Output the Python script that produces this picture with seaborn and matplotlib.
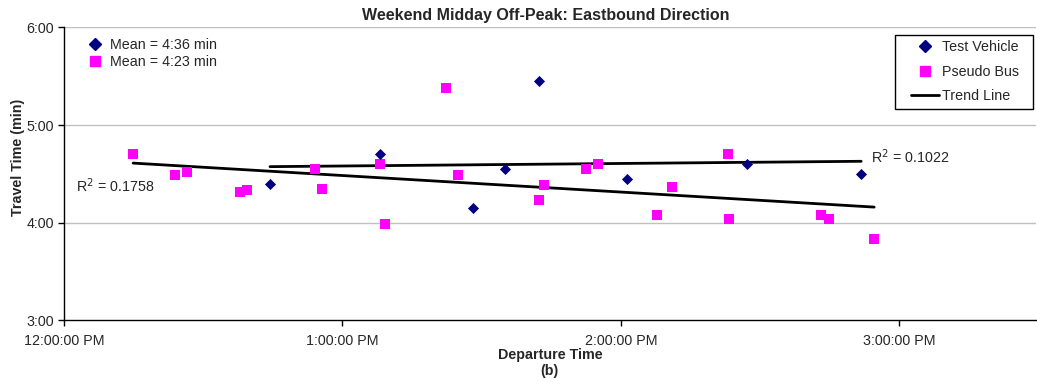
import numpy as np
import pandas as pd
import matplotlib
matplotlib.use("Agg")
import matplotlib.pyplot as plt
from matplotlib.lines import Line2D
from matplotlib.legend_handler import HandlerLine2D
from matplotlib.ticker import FixedLocator, FuncFormatter
import seaborn as sns

# Departure clock times and observed travel times (m:ss)
tv_depart = ["12:44:24", "13:08:12", "13:28:12", "13:35:03", "13:42:24",
             "14:01:24", "14:27:18", "14:51:48"]
tv_travel = ["4:24", "4:42", "4:09", "4:33", "5:27", "4:27", "4:36", "4:30"]

pb_depart = ["12:14:54", "12:23:54", "12:26:30", "12:37:54", "12:39:24",
             "12:54:06", "12:55:36", "13:08:12", "13:09:12", "13:22:18",
             "13:24:54", "13:42:24", "13:43:24", "13:52:30", "13:55:00",
             "14:07:48", "14:11:06", "14:23:12", "14:23:18", "14:43:12",
             "14:44:54", "14:54:36"]
pb_travel = ["4:42", "4:29", "4:31", "4:19", "4:20", "4:33", "4:21", "4:36",
             "3:59", "5:23", "4:29", "4:14", "4:23", "4:33", "4:36", "4:05",
             "4:22", "4:42", "4:02", "4:05", "4:02", "3:50"]

series_names = ["Test Vehicle", "Pseudo Bus"]
mean_labels = ["Mean = 4:36 min", "Mean = 4:23 min"]
r2_labels = ["R$^2$ = 0.1022", "R$^2$ = 0.1758"]
x_tick_hours = [0, 1, 2, 3]
y_tick_minutes = [3, 4, 5, 6]


def hours_after_noon(s):
    h, m, sec = (int(v) for v in s.split(":"))
    return h - 12 + m / 60 + sec / 3600


def minutes(s):
    m, sec = (int(v) for v in s.split(":"))
    return m + sec / 60


tv = pd.DataFrame({"depart": [hours_after_noon(s) for s in tv_depart],
                   "travel": [minutes(s) for s in tv_travel]})
pb = pd.DataFrame({"depart": [hours_after_noon(s) for s in pb_depart],
                   "travel": [minutes(s) for s in pb_travel]})

sns.set_theme(style="white")
plt.rcParams["font.family"] = ["Liberation Sans", "DejaVu Sans"]

NAVY = "#000080"
MAGENTA = "#FF00FF"
FS = 10.3

fig = plt.figure(figsize=(10.37, 3.81), dpi=100)
ax = fig.add_axes([0.0617, 0.1593, 0.937, 0.7687])

# gridlines
for m in y_tick_minutes[1:]:
    ax.axhline(m, color="#c0c0c0", lw=1.0, zorder=0)

# trend lines
for df in (tv, pb):
    sns.regplot(data=df, x="depart", y="travel", ax=ax, scatter=False,
                ci=None, truncate=True, color="black",
                line_kws=dict(lw=2.0, zorder=2))

sns.scatterplot(data=pb, x="depart", y="travel", ax=ax, marker="s",
                color=MAGENTA, s=62, linewidth=0, zorder=3)
sns.scatterplot(data=tv, x="depart", y="travel", ax=ax, marker="D",
                color=NAVY, s=32, linewidth=0, zorder=4)

ax.set_xlim(0, 3.49)
ax.set_ylim(3, 6)
ax.xaxis.set_major_locator(FixedLocator(x_tick_hours))
ax.yaxis.set_major_locator(FixedLocator(y_tick_minutes))
ax.xaxis.set_major_formatter(FuncFormatter(
    lambda v, p: f"{12 if int(round(v)) == 0 else int(round(v))}:00:00 PM"))
ax.yaxis.set_major_formatter(FuncFormatter(lambda v, p: f"{int(round(v))}:00"))
ax.tick_params(axis="both", which="major", direction="out", length=4,
               width=1, color="black", labelsize=FS, pad=3,
               bottom=True, left=True)
ax.tick_params(axis="x", pad=6)

for side in ("top", "right"):
    ax.spines[side].set_visible(False)
for side in ("left", "bottom"):
    ax.spines[side].set_color("black")
    ax.spines[side].set_linewidth(1.0)

ax.set_title("Weekend Midday Off-Peak: Eastbound Direction",
             fontsize=11.5, fontweight="bold", pad=5, x=0.496)
ax.set_xlabel("Departure Time\n(b)", fontsize=FS, fontweight="bold",
              labelpad=0, linespacing=1.2)
ax.set_ylabel("Travel Time (min)", fontsize=FS, fontweight="bold")
ax.yaxis.set_label_coords(-0.0406, 0.556)

# R-squared annotations
ax.text(2.897, 4.673, r2_labels[0], fontsize=FS, va="center", ha="left")
ax.text(0.043, 4.376, r2_labels[1], fontsize=FS, va="center", ha="left")

# series legend (handles inset from the frame's left edge)
handles = [
    Line2D([], [], ls="none", marker="D", color=NAVY, markersize=6.6),
    Line2D([], [], ls="none", marker="s", color=MAGENTA, markersize=7.5),
    Line2D([], [], color="black", lw=2.0),
]
inset = HandlerLine2D(xpad=0.74)
leg = ax.legend(handles, [n + "  " for n in series_names + ["Trend Line"]],
                loc="upper right", bbox_to_anchor=(0.997, 0.9744),
                fontsize=FS, frameon=True, fancybox=False,
                edgecolor="black", framealpha=1,
                handlelength=2.7, handletextpad=0.21, borderpad=0.38,
                labelspacing=0.73, borderaxespad=0,
                handler_map={h: inset for h in handles})
leg.get_frame().set_linewidth(1.0)
ax.add_artist(leg)

# mean annotations
mean_handles = [
    Line2D([], [], ls="none", marker="D", color=NAVY, markersize=6.6),
    Line2D([], [], ls="none", marker="s", color=MAGENTA, markersize=7.5),
]
ax.legend(mean_handles, mean_labels, loc="upper left",
          bbox_to_anchor=(0.019, 0.985), fontsize=FS, frameon=False,
          handlelength=1.0, handletextpad=0.5, labelspacing=0.26,
          borderaxespad=0)

fig.savefig("out.png", dpi=100)
